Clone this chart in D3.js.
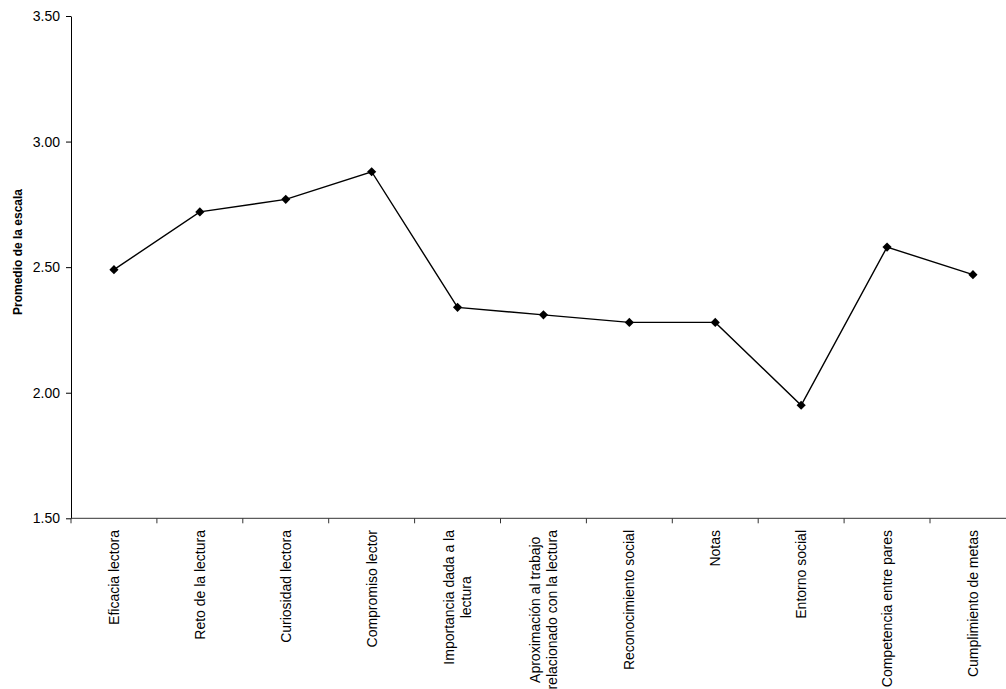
<!DOCTYPE html>
<html>
<head>
<meta charset="utf-8">
<script src="https://cdn.jsdelivr.net/npm/d3@7/dist/d3.min.js"></script>
<style>
  html, body { margin: 0; padding: 0; background: #fff; }
  svg { display: block; font-family: "Liberation Sans", Arial, sans-serif; }
</style>
</head>
<body>
<svg id="chart" width="1006" height="689"></svg>
<script>
// Category labels (line breaks as drawn under the axis)
const categories = [
  "Eficacia lectora",
  "Reto de la lectura",
  "Curiosidad lectora",
  "Compromiso lector",
  "Importancia dada a la lectura",
  "Aproximación al trabajo relacionado con la lectura",
  "Reconocimiento social",
  "Notas",
  "Entorno social",
  "Competencia entre pares",
  "Cumplimiento de metas"
];
const labelLines = [
  ["Eficacia lectora"],
  ["Reto de la lectura"],
  ["Curiosidad lectora"],
  ["Compromiso lector"],
  ["Importancia dada a la", "lectura"],
  ["Aproximación al trabajo", "relacionado con la lectura"],
  ["Reconocimiento social"],
  ["Notas"],
  ["Entorno social"],
  ["Competencia entre pares"],
  ["Cumplimiento de metas"]
];
// Mean scale score per category
const promedios = [2.49, 2.72, 2.77, 2.88, 2.34, 2.31, 2.28, 2.28, 1.95, 2.58, 2.47];
const yTicks = [1.5, 2.0, 2.5, 3.0, 3.5];
const yTitle = "Promedio de la escala";

const svg = d3.select("#chart");
const W = 1006, H = 689;

svg.append("rect").attr("width", W).attr("height", H).attr("fill", "#fff");

// Plot frame
const x0 = 71, bandW = 85.9;
const x = d3.scaleBand()
  .domain(categories)
  .range([x0, x0 + bandW * categories.length])
  .padding(0);
const y = d3.scaleLinear().domain([1.5, 3.5]).range([518.3, 16]);

// Y axis
const yAxis = svg.append("g")
  .attr("transform", `translate(${x0},0)`)
  .call(d3.axisLeft(y).tickValues(yTicks).tickFormat(d3.format(".2f"))
    .tickSizeInner(5).tickSizeOuter(0).tickPadding(6));
yAxis.select(".domain").attr("stroke", "#000").attr("stroke-width", 1);
yAxis.selectAll(".tick line").attr("stroke", "#000");
yAxis.selectAll(".tick text")
  .attr("font-size", 14).attr("font-family", "Liberation Sans, Arial, sans-serif")
  .attr("fill", "#000");

// X axis: ticks on the category boundaries
const bounds = categories.map(c => x(c)).concat([x.range()[1]]);
const xg = svg.append("g").attr("class", "x-axis");
xg.append("line")
  .attr("x1", x0).attr("x2", x.range()[1])
  .attr("y1", y(1.5)).attr("y2", y(1.5))
  .attr("stroke", "#333").attr("stroke-width", 1);
xg.selectAll("line.tick").data(bounds).join("line")
  .attr("class", "tick")
  .attr("x1", d => d).attr("x2", d => d)
  .attr("y1", y(1.5)).attr("y2", y(1.5) + 5)
  .attr("stroke", "#333");

// Rotated category labels, longest line ending just below the ticks
const labelTop = 530, lineGap = 17;
categories.forEach((c, i) => {
  const cx = x(c) + x.bandwidth() / 2;
  const lines = labelLines[i];
  const g = svg.append("g").attr("transform", `translate(${cx},${labelTop}) rotate(-90)`);
  const texts = lines.map((ln, j) => g.append("text")
    .attr("font-size", 14).attr("fill", "#000")
    .attr("text-anchor", "middle")
    .attr("y", (j - (lines.length - 1) / 2) * lineGap)
    .attr("dy", "0.35em")
    .text(ln));
  const maxLen = d3.max(texts, t => t.node().getComputedTextLength());
  texts.forEach(t => t.attr("x", -maxLen / 2));
});

// Y axis title
svg.append("text")
  .attr("transform", `translate(18,252) rotate(-90)`)
  .attr("text-anchor", "middle").attr("dy", "0.35em")
  .attr("font-size", 12).attr("font-weight", "bold").attr("fill", "#000")
  .text(yTitle);

// Series line and diamond markers
const pts = categories.map((c, i) => ({ c, v: promedios[i] }));
const line = d3.line()
  .x(d => x(d.c) + x.bandwidth() / 2)
  .y(d => y(d.v));
svg.append("path").datum(pts)
  .attr("d", line)
  .attr("fill", "none").attr("stroke", "#000").attr("stroke-width", 1.4);

const diamond = d3.symbol().type(d3.symbolSquare).size(42);
svg.selectAll("path.marker").data(pts).join("path")
  .attr("class", "marker")
  .attr("d", diamond)
  .attr("transform", d => `translate(${x(d.c) + x.bandwidth() / 2},${y(d.v)}) rotate(45)`)
  .attr("fill", "#000");
</script>
</body>
</html>
